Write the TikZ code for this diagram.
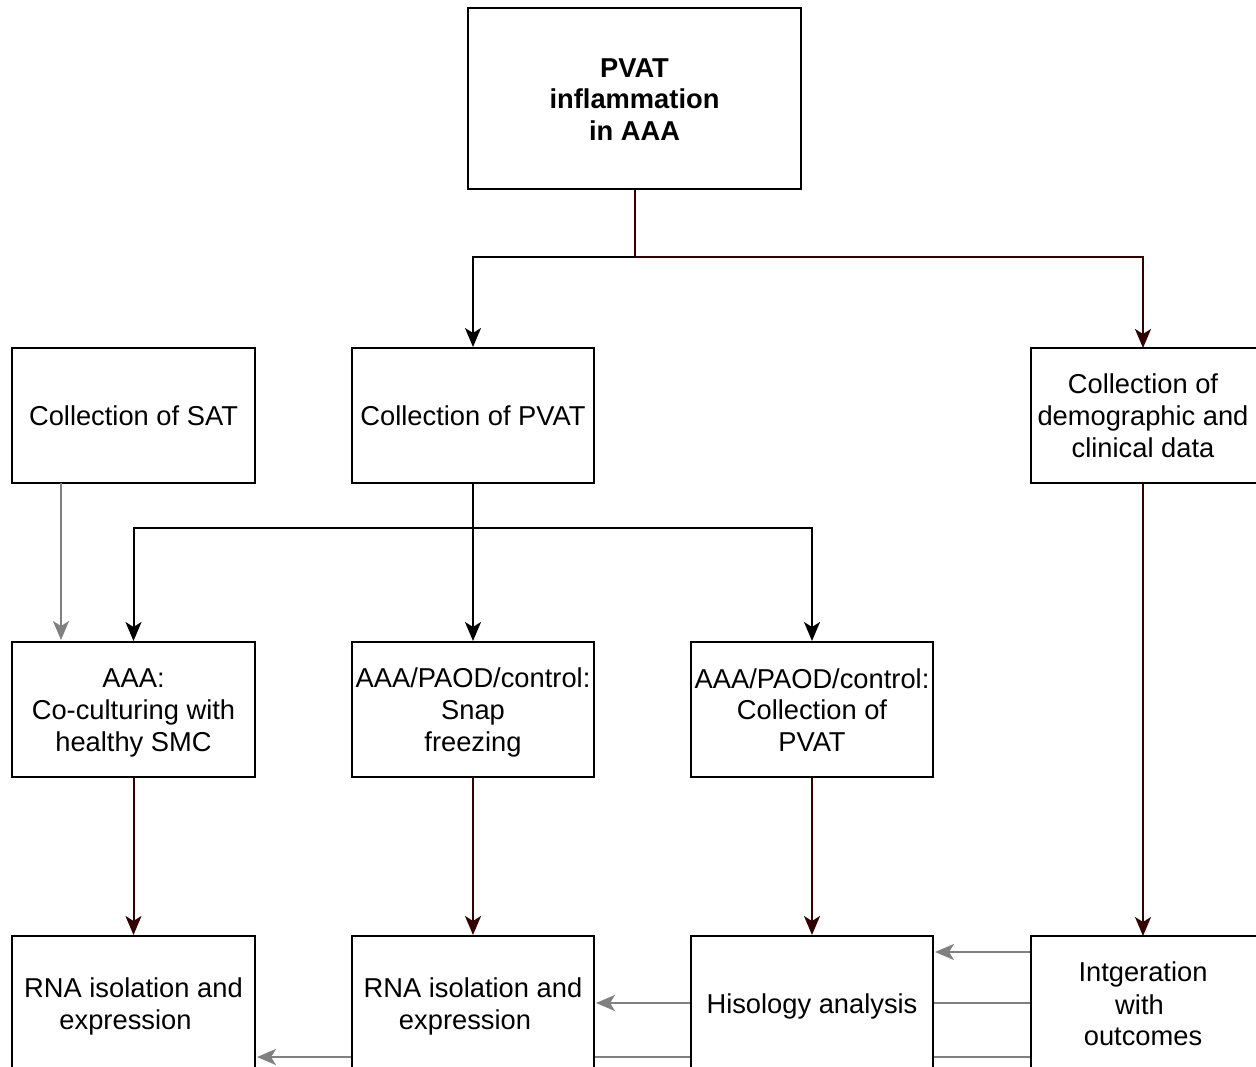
\documentclass[tikz,border=0pt]{standalone}
\usepackage{fontspec}
\setmainfont{Liberation Sans}
\usetikzlibrary{arrows.meta}
\definecolor{darkred}{RGB}{51,0,0}
\definecolor{arrgray}{RGB}{128,128,128}
\newcommand{\pad}[1]{\rule{#1}{0pt}}
\newcommand{\mys}{\rule[-5.5pt]{0pt}{31.5pt}}
\tikzset{
  box/.style={draw=black, line width=2pt, fill=white, inner sep=0pt, align=center,
    font=\fontsize{27.3}{31.5}\selectfont},
  arr/.style={line width=2pt, -{Stealth[length=19pt,width=16pt,inset=5pt]}},
  ln/.style={line width=2pt},
}
\begin{document}
\begin{tikzpicture}[x=1pt,y=-1pt]
\useasboundingbox (0,0) rectangle (1256,1067);
\fill[white] (0,0) rectangle (1256,1067);

% gray connectors from integration, behind the boxes
\coordinate (g1s) at (1031,952);
\coordinate (g1e) at (935,952);
\coordinate (g2s) at (1031,1003);
\coordinate (g2e) at (596,1003);
\coordinate (g3s) at (1031,1057);
\coordinate (g3e) at (257,1057);
\draw[arr, arrgray] (g1s) -- (g1e);
\draw[arr, arrgray] (g2s) -- (g2e);
\draw[arr, arrgray] (g3s) -- (g3e);

% nodes
\node[box, minimum width=333pt, minimum height=181pt, font=\fontsize{27.3}{31.5}\selectfont\bfseries] (top) at (634.5,98.5) {\mys PVAT\\\mys inflammation\\\mys in AAA};

\node[box, minimum width=243pt, minimum height=135pt] (sat) at (133.5,415.5) {\mys Collection of SAT};
\node[box, minimum width=242pt, minimum height=135pt] (pvat) at (473,415.5) {\mys Collection of PVAT};
\node[box, minimum width=243pt, minimum height=135pt] (demo) at (1152.5,415.5) {\mys Collection of\pad{19pt}\\\mys demographic and\pad{19pt}\\\mys clinical data\pad{19pt}};

\node[box, minimum width=243pt, minimum height=135pt] (coc) at (133.5,709.5) {\mys AAA:\\\mys Co-culturing with\\\mys healthy SMC};
\node[box, minimum width=242pt, minimum height=135pt] (snap) at (473,709.5) {\mys AAA/PAOD/control:\\\mys Snap\\\mys freezing};
\node[box, minimum width=242pt, minimum height=135pt] (colp) at (812,709.5) {\mys AAA/PAOD/control:\\\mys Collection of\\\mys PVAT};

\node[box, minimum width=243pt, minimum height=135pt] (rna1) at (133.5,1003.5) {\mys RNA isolation and\\\mys expression\pad{16pt}};
\node[box, minimum width=242pt, minimum height=135pt] (rna2) at (473,1003.5) {\mys RNA isolation and\\\mys expression\pad{16pt}};
\node[box, minimum width=242pt, minimum height=135pt] (hist) at (812,1003.5) {\mys Hisology analysis};
\node[box, minimum width=243pt, minimum height=135pt] (integ) at (1152.5,1003.5) {\mys Intgeration\pad{19pt}\\\mys with\pad{26pt}\\\mys outcomes\pad{19pt}};

% top connectors
\coordinate (tj) at (634.5,257);
\draw[ln, darkred] (top.south) -- (tj);
\draw[arr, black] (tj) -| (pvat.north);
\draw[arr, darkred] (tj) -| (1143,348) coordinate (demotop);

% SAT to co-culture (gray)
\draw[arr, arrgray] (61,483) coordinate (sats) -- (61,640) coordinate (sate);

% PVAT split
\coordinate (pj) at (473,528);
\draw[ln, black] (pvat.south) -- (pj);
\draw[arr, black] (pj) -| (coc.north);
\draw[arr, black] (pj) -- (snap.north);
\draw[arr, black] (pj) -| (colp.north);

% row 2 to row 3
\draw[arr, darkred] (coc.south) -- (rna1.north);
\draw[arr, darkred] (snap.south) -- (rna2.north);
\draw[arr, darkred] (colp.south) -- (hist.north);
\draw[arr, darkred] (1143,483) coordinate (demob) -- (1143,936) coordinate (integt);
\end{tikzpicture}
\end{document}
